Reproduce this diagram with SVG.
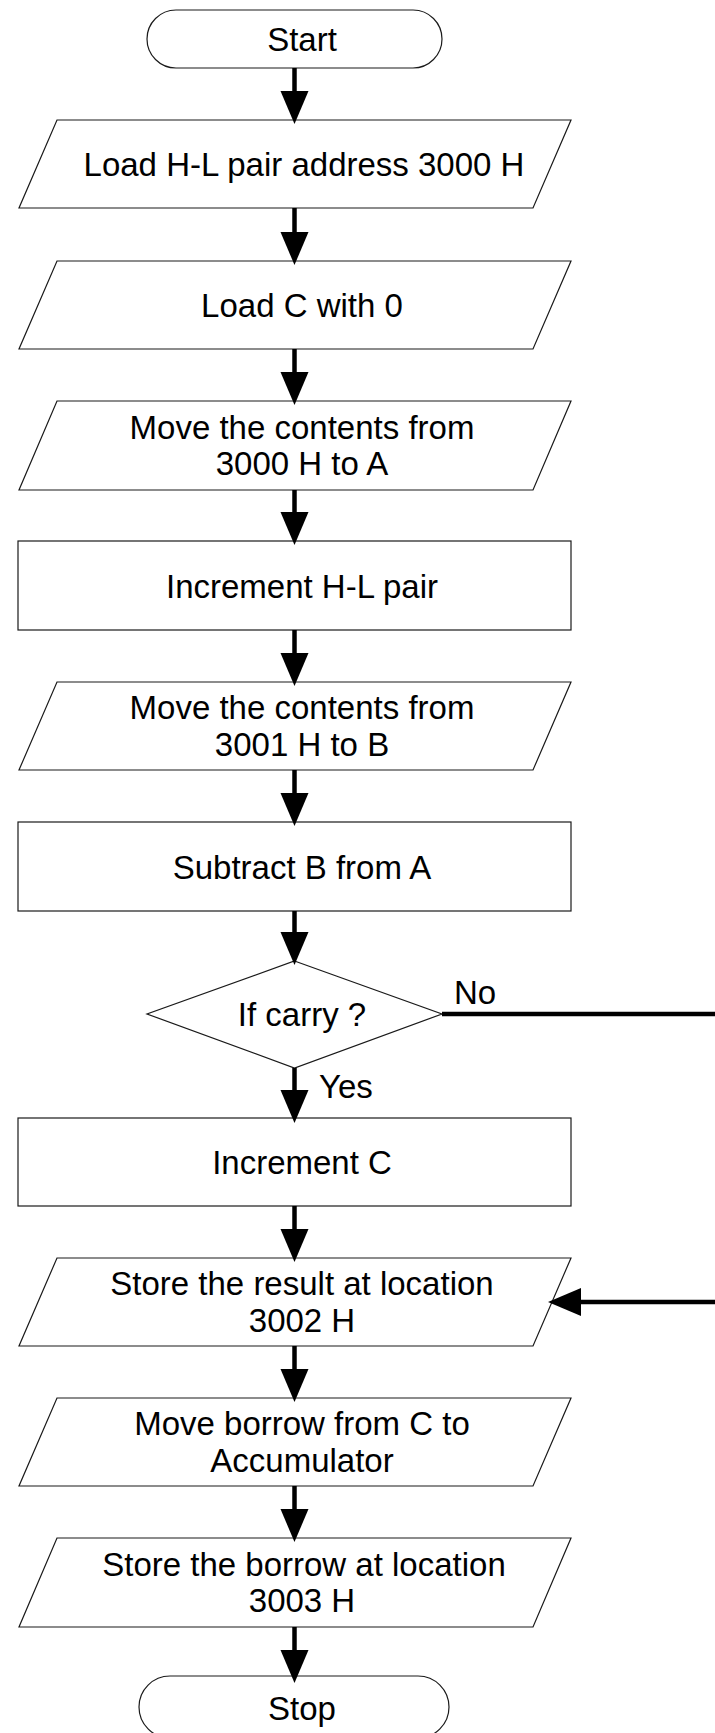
<svg xmlns="http://www.w3.org/2000/svg" width="715" height="1733" viewBox="0 0 715 1733">
<style>
.n{fill:none;stroke:#1a1a1a;stroke-width:1.2}
.t{font-family:"Liberation Sans",Arial,sans-serif;font-size:33px;fill:#000;text-anchor:middle}
.l{font-family:"Liberation Sans",Arial,sans-serif;font-size:33px;fill:#000}
.c{fill:none;stroke:#000;stroke-width:4.5}
</style>
<defs>
<marker id="ah" markerUnits="userSpaceOnUse" markerWidth="34" markerHeight="30" viewBox="0 -15 34 30" refX="0" refY="0" orient="auto">
<path d="M0,-14 L33,0 L0,14 Z" fill="#000"/>
</marker>
</defs>
<rect width="715" height="1733" fill="#fff"/>
<g id="start"><rect class="n" x="147" y="10" width="295" height="58" rx="29"/><text class="t" x="302" y="51">Start</text></g>
<g id="p1"><path class="n" d="M57,120 L571,120 L533,208 L19,208 Z"/><text class="t" x="304" y="176">Load H-L pair address 3000 H</text></g>
<g id="p2"><path class="n" d="M57,261 L571,261 L533,349 L19,349 Z"/><text class="t" x="302" y="317">Load C with 0</text></g>
<g id="p3"><path class="n" d="M57,401 L571,401 L533,490 L19,490 Z"/><text class="t" x="302" y="438.5">Move the contents from</text><text class="t" x="302" y="475">3000 H to A</text></g>
<g id="r1"><rect class="n" x="18" y="541" width="553" height="89"/><text class="t" x="302" y="597.5">Increment H-L pair</text></g>
<g id="p4"><path class="n" d="M57,682 L571,682 L533,770 L19,770 Z"/><text class="t" x="302" y="719">Move the contents from</text><text class="t" x="302" y="755.5">3001 H to B</text></g>
<g id="r2"><rect class="n" x="18" y="822" width="553" height="89"/><text class="t" x="302" y="878.5">Subtract B from A</text></g>
<g id="d"><path class="n" d="M294.5,961 L442,1014 L294.5,1068 L147,1014 Z"/><text class="t" x="302" y="1026">If carry ?</text></g>
<g id="r3"><rect class="n" x="18" y="1118" width="553" height="88"/><text class="t" x="302" y="1173.5">Increment C</text></g>
<g id="p5"><path class="n" d="M57,1258 L571,1258 L533,1346 L19,1346 Z"/><text class="t" x="302" y="1295">Store the result at location</text><text class="t" x="302" y="1331.5">3002 H</text></g>
<g id="p6"><path class="n" d="M57,1398 L571,1398 L533,1486 L19,1486 Z"/><text class="t" x="302" y="1435">Move borrow from C to</text><text class="t" x="302" y="1471.5">Accumulator</text></g>
<g id="p7"><path class="n" d="M57,1538 L571,1538 L533,1627 L19,1627 Z"/><text class="t" x="304" y="1575.5">Store the borrow at location</text><text class="t" x="302" y="1612">3003 H</text></g>
<g id="stop"><rect class="n" x="139" y="1676" width="310" height="62" rx="31"/><text class="t" x="302" y="1719.5">Stop</text></g>
<g id="connectors">
<line class="c" x1="294.5" y1="68" x2="294.5" y2="91" marker-end="url(#ah)"/>
<line class="c" x1="294.5" y1="208" x2="294.5" y2="232" marker-end="url(#ah)"/>
<line class="c" x1="294.5" y1="349" x2="294.5" y2="372" marker-end="url(#ah)"/>
<line class="c" x1="294.5" y1="490" x2="294.5" y2="512" marker-end="url(#ah)"/>
<line class="c" x1="294.5" y1="630" x2="294.5" y2="653" marker-end="url(#ah)"/>
<line class="c" x1="294.5" y1="770" x2="294.5" y2="793" marker-end="url(#ah)"/>
<line class="c" x1="294.5" y1="911" x2="294.5" y2="932" marker-end="url(#ah)"/>
<line class="c" x1="294.5" y1="1068" x2="294.5" y2="1090" marker-end="url(#ah)"/>
<line class="c" x1="294.5" y1="1206" x2="294.5" y2="1229" marker-end="url(#ah)"/>
<line class="c" x1="294.5" y1="1346" x2="294.5" y2="1369" marker-end="url(#ah)"/>
<line class="c" x1="294.5" y1="1486" x2="294.5" y2="1509" marker-end="url(#ah)"/>
<line class="c" x1="294.5" y1="1627" x2="294.5" y2="1650" marker-end="url(#ah)"/>
<path class="c" d="M442,1014 H730 V1302 H581" marker-end="url(#ah)"/>
<text class="l" x="454" y="1004">No</text>
<text class="l" x="319" y="1098">Yes</text>
</g>
</svg>
